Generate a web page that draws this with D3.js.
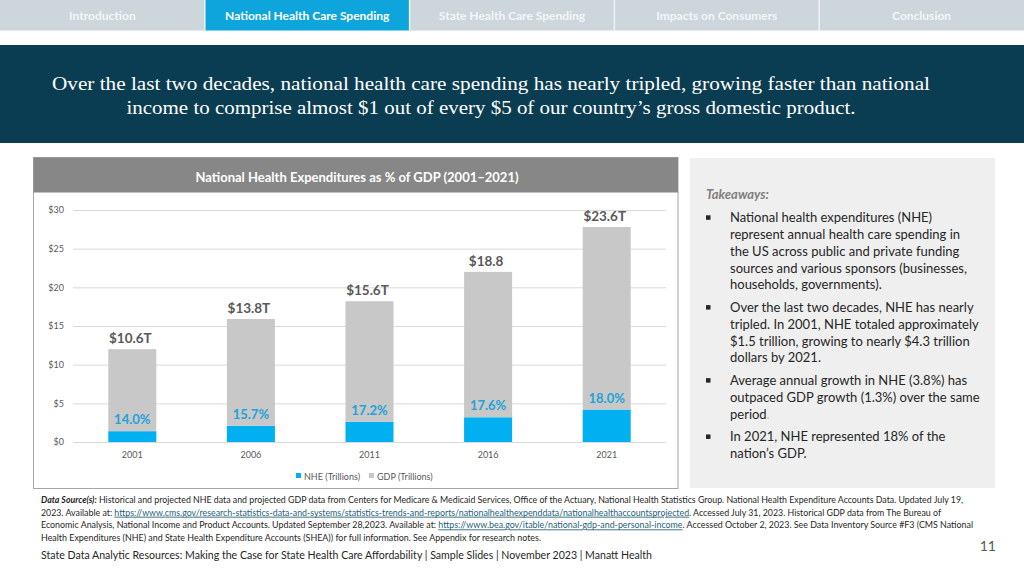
<!DOCTYPE html>
<html>
<head>
<meta charset="utf-8">
<script src="https://cdn.jsdelivr.net/npm/d3@7"></script>
<style>
  html, body { margin: 0; padding: 0; background: #ffffff; }
  svg { display: block; }
  text { font-family: Lato, "Open Sans", sans-serif; }
</style>
</head>
<body>
<svg id="slide" width="1024" height="576"></svg>
<script>
// ---------------- DATA ----------------
const years = ["2001", "2006", "2011", "2016", "2021"];
const nheValues = [1.4, 2.1, 2.6, 3.2, 4.2];        // NHE (Trillions)
const gdpValues = [10.6, 13.8, 15.6, 18.8, 23.6];   // GDP (Trillions)
const gdpLabels = ["$10.6T", "$13.8T", "$15.6T", "$18.8", "$23.6T"];
const nheShareLabels = ["14.0%", "15.7%", "17.2%", "17.6%", "18.0%"];
const yTicks = [0, 5, 10, 15, 20, 25, 30];
const seriesNames = ["NHE (Trillions)", "GDP (Trillions)"];
const navTabs = ["Introduction", "National Health Care Spending", "State Health Care Spending", "Impacts on Consumers", "Conclusion"];
const activeTab = 1;
const headline = [
  "Over the last two decades, national health care spending has nearly tripled, growing faster than national",
  "income to comprise almost $1 out of every $5 of our country\u2019s gross domestic product."
];
const chartTitle = "National Health Expenditures as % of GDP (2001\u20132021)";
const takeawayTitle = "Takeaways:";
const takeaways = [
  ["National health expenditures (NHE)", "represent annual health care spending in", "the US across public and private funding", "sources and various sponsors (businesses,", "households, governments)."],
  ["Over the last two decades, NHE has nearly", "tripled. In 2001, NHE totaled approximately", "$1.5 trillion, growing to nearly $4.3 trillion", "dollars by 2021."],
  ["Average annual growth in NHE (3.8%) has", "outpaced GDP growth (1.3%) over the same", "period."],
  ["In 2021, NHE represented 18% of the", "nation\u2019s GDP."]
];
const sourceLines = [
  [["b", "Data Source(s):"], ["t", " Historical and projected NHE data and projected GDP data from Centers for Medicare & Medicaid Services, Office of the Actuary, National Health Statistics Group. National Health Expenditure Accounts Data. Updated July 19,"]],
  [["t", "2023. Available at: "], ["a", "https://www.cms.gov/research-statistics-data-and-systems/statistics-trends-and-reports/nationalhealthexpenddata/nationalhealthaccountsprojected"], ["t", ". Accessed July 31, 2023. Historical GDP data from The Bureau of"]],
  [["t", "Economic Analysis, National Income and Product Accounts. Updated September 28,2023. Available at: "], ["a", "https://www.bea.gov/itable/national-gdp-and-personal-income"], ["t", ". Accessed October 2, 2023. See Data Inventory Source #F3 (CMS National"]],
  [["t", "Health Expenditures (NHE)  and State Health Expenditure Accounts (SHEA)) for full information. See Appendix for research notes."]]
];
const footerText = "State Data Analytic Resources: Making the Case for State Health Care Affordability | Sample Slides | November 2023 | Manatt Health";
const pageNumber = "11";

// ---------------- DRAW ----------------
const svg = d3.select("#slide");

// Navigation bar
const nav = svg.append("g");
const navX = d3.scaleBand().domain(navTabs).range([0, 1024]);
nav.selectAll("rect").data(navTabs).join("rect")
  .attr("x", d => navX(d)).attr("y", 0)
  .attr("width", navX.bandwidth()).attr("height", 30.5)
  .attr("fill", (d, i) => i === activeTab ? "#0ea5dc" : "#ccd6db");
nav.selectAll("line").data(navTabs.slice(1)).join("line")
  .attr("x1", d => navX(d)).attr("x2", d => navX(d))
  .attr("y1", 0).attr("y2", 30.5)
  .attr("stroke", "#eef2f4").attr("stroke-width", 1.5);
nav.selectAll("text").data(navTabs).join("text")
  .attr("x", d => navX(d) + navX.bandwidth() / 2).attr("y", 20)
  .attr("text-anchor", "middle")
  .attr("font-size", 12).attr("font-weight", 700)
  .attr("fill", (d, i) => i === activeTab ? "#ffffff" : "#f4f7f8")
  .text(d => d);

// Headline banner
svg.append("rect").attr("x", 0).attr("y", 45).attr("width", 1024).attr("height", 98).attr("fill", "#0b3d52");
svg.selectAll("text.headline").data(headline).join("text")
  .attr("class", "headline")
  .attr("x", 491).attr("y", (d, i) => 90 + i * 24)
  .attr("text-anchor", "middle")
  .style("font-family", "Georgia, 'Liberation Serif', 'DejaVu Serif', serif")
  .attr("font-size", 19.5).attr("fill", "#ffffff")
  .attr("textLength", (d, i) => i === 0 ? 878 : 729)
  .attr("lengthAdjust", "spacingAndGlyphs")
  .text(d => d);

// Chart panel
svg.append("rect").attr("x", 33.5).attr("y", 157.5).attr("width", 644.5).attr("height", 331)
  .attr("fill", "#ffffff").attr("stroke", "#a6a6a6").attr("stroke-width", 1);
svg.append("rect").attr("x", 33.5).attr("y", 157.5).attr("width", 644.5).attr("height", 35)
  .attr("fill", "#878787");
svg.append("text").attr("x", 357).attr("y", 182).attr("text-anchor", "middle")
  .attr("font-size", 13).attr("font-weight", 700).attr("fill", "#ffffff")
  .text(chartTitle);

// Scales
const plot = { left: 73, right: 666, top: 210, bottom: 442 };
const x = d3.scaleBand().domain(years).range([plot.left, plot.right]).paddingInner(0.595).paddingOuter(0.2975);
const y = d3.scaleLinear().domain([0, 30]).range([plot.bottom, plot.top]);

const rows = years.map((yr, i) => ({ year: yr, nhe: nheValues[i], gdp: gdpValues[i] }));
const stack = d3.stack().keys(["nhe", "gdp"]);
const stacked = stack(rows);
const colors = { nhe: "#00b0f0", gdp: "#c8c8c8" };

// Y axis + gridlines
const yAxis = svg.append("g").attr("transform", `translate(${plot.left},0)`)
  .call(d3.axisLeft(y).tickValues(yTicks).tickFormat(d => "$" + d)
    .tickSize(-(plot.right - plot.left)).tickPadding(9));
yAxis.select(".domain").remove();
yAxis.selectAll(".tick line").attr("stroke", "#d9d9d9").attr("stroke-width", 1);
yAxis.selectAll(".tick text").attr("font-size", 9).attr("fill", "#595959")
  .style("font-family", "Lato, sans-serif");

// Bars
svg.append("g").selectAll("g").data(stacked).join("g")
  .attr("fill", d => colors[d.key])
  .selectAll("rect").data(d => d).join("rect")
  .attr("x", d => x(d.data.year)).attr("width", x.bandwidth())
  .attr("y", d => y(d[1])).attr("height", d => y(d[0]) - y(d[1]));

// X axis
const xAxis = svg.append("g").attr("transform", `translate(0,${plot.bottom})`)
  .call(d3.axisBottom(x).tickSize(0).tickPadding(9.5));
xAxis.select(".domain").remove();
xAxis.selectAll(".tick text").attr("font-size", 9).attr("fill", "#595959")
  .style("font-family", "Lato, sans-serif");

// Data labels
svg.append("g").selectAll("text").data(rows).join("text")
  .attr("x", d => x(d.year) + x.bandwidth() / 2 - 2)
  .attr("y", d => y(d.nhe + d.gdp) - 6)
  .attr("text-anchor", "middle")
  .attr("font-size", 13.5).attr("font-weight", 700).attr("fill", "#595959")
  .text((d, i) => gdpLabels[i]);
svg.append("g").selectAll("text").data(rows).join("text")
  .attr("x", d => x(d.year) + x.bandwidth() / 2)
  .attr("y", d => y(d.nhe) - 7)
  .attr("text-anchor", "middle")
  .attr("font-size", 13).attr("font-weight", 700).attr("fill", "#22a2d8")
  .text((d, i) => nheShareLabels[i]);

// Legend
const legend = svg.append("g");
const legendItems = [{ name: seriesNames[0], color: colors.nhe, x: 296 }, { name: seriesNames[1], color: colors.gdp, x: 369 }];
legend.selectAll("rect").data(legendItems).join("rect")
  .attr("x", d => d.x).attr("y", 473).attr("width", 5).attr("height", 5).attr("fill", d => d.color);
legend.selectAll("text").data(legendItems).join("text")
  .attr("x", d => d.x + 8).attr("y", 479.5)
  .attr("font-size", 9).attr("fill", "#595959").text(d => d.name);

// Takeaways panel
svg.append("rect").attr("x", 690).attr("y", 158).attr("width", 305).attr("height", 330).attr("fill", "#efefef");
svg.append("text").attr("x", 706).attr("y", 198.5)
  .attr("font-size", 13).attr("font-style", "italic").attr("font-weight", 700).attr("fill", "#7f7f7f")
  .text(takeawayTitle);
const tk = svg.append("g");
let baseY = 222.3;
takeaways.forEach((para) => {
  tk.append("rect").attr("x", 706).attr("y", baseY - 7).attr("width", 4.5).attr("height", 4.5).attr("fill", "#262626");
  para.forEach((line, j) => {
    const t = tk.append("text").attr("x", 730).attr("y", baseY + j * 16.75)
      .attr("font-size", 13).attr("fill", "#262626");
    if (line === "period.") {
      t.append("tspan").text("period");
      t.append("tspan").attr("fill", "#e8c84a").text(".");
    } else {
      t.text(line);
    }
  });
  baseY += (para.length - 1) * 16.75 + 22.5 + 0.3;
});

// Source footnote
const src = svg.append("g");
const srcWidths = [922, 900, 932, 500];
sourceLines.forEach((parts, i) => {
  const t = src.append("text").attr("x", 41).attr("y", 503 + i * 12.7)
    .attr("font-size", 8.6).attr("fill", "#262626")
    .attr("textLength", srcWidths[i]).attr("lengthAdjust", "spacingAndGlyphs");
  parts.forEach(([kind, str]) => {
    const s = t.append("tspan").text(str);
    if (kind === "b") s.attr("font-weight", 700).attr("font-style", "italic");
    if (kind === "a") s.attr("fill", "#1f5f7a").attr("text-decoration", "underline");
  });
});

// Footer
svg.append("text").attr("x", 41).attr("y", 559).attr("font-size", 11).attr("fill", "#262626")
  .attr("textLength", 611).attr("lengthAdjust", "spacingAndGlyphs")
  .text(footerText);
svg.append("text").attr("x", 996).attr("y", 551).attr("text-anchor", "end")
  .attr("font-size", 14).attr("fill", "#595959").text(pageNumber);
</script>
</body>
</html>
